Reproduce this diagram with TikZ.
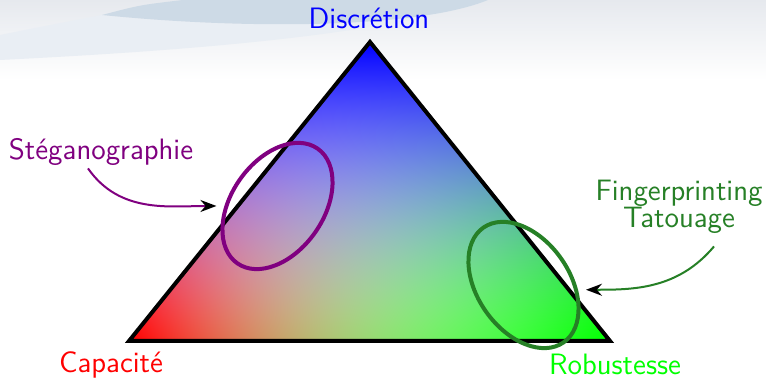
\documentclass[tikz,border=0pt]{standalone}
\usetikzlibrary{shapes.geometric,arrows.meta}

\definecolor{bgtop}{RGB}{230,233,238}
\definecolor{bandlight}{RGB}{233,238,244}
\definecolor{banddark}{RGB}{205,218,230}
\definecolor{stegcol}{RGB}{128,0,128}
\definecolor{fpcol}{RGB}{38,128,38}

% red, then green, then blue laid over white, each fading away from its corner
\pgfdeclarefunctionalshading{trishade}{\pgfpointorigin}{\pgfpoint{240.5bp}{149.5bp}}{}{
  149.5 div
  dup 120.5 mul
  3 -1 roll exch sub
  240.5 div
  2 copy add 1 exch sub
  3 1 roll exch
  abs 1.5 exp 1 exch sub
  exch abs 1.3 exp 1 exch sub exch
  3 -1 roll dup mul 1 exch sub 3 1 roll
  1 index 1 index mul
  3 index 3 index mul 1 add 3 index sub 2 index mul
  4 index 4 index mul 3 index mul 1 add 3 index sub
  6 -3 roll pop pop pop
}

\begin{document}
\begin{tikzpicture}[x=0.5bp,y=0.5bp,
    lbl/.style={font=\fontsize{14.8}{14}\selectfont\sffamily,inner sep=1bp,anchor=base},
    zone/.style={draw,ellipse,line width=2bp,minimum width=70bp,minimum height=46bp,inner sep=0pt},
    pointer/.style={line width=1bp,-{Stealth[length=8bp,width=6bp,black]},shorten >=4bp}]
  \useasboundingbox (0,0) rectangle (766,378);

  % background
  \fill[white] (0,0) rectangle (766,378);
  \shade[top color=bgtop,bottom color=white] (0,298) rectangle (766,378);
  \fill[bandlight] (0,343) .. controls (50,353) .. (102,363)
    .. controls (250,348) and (420,350) .. (488,378)
    .. controls (380,343) and (200,328) .. (0,318) -- cycle;
  \fill[banddark] (102,363) .. controls (140,373) .. (183,378) -- (488,378)
    .. controls (420,350) and (250,348) .. (102,363) -- cycle;

  % triangle
  \coordinate (cap) at (129,37);
  \coordinate (rob) at (610,37);
  \coordinate (dis) at (370,336);
  \begin{scope}
    \clip (cap) -- (rob) -- (dis) -- cycle;
    \node[inner sep=0pt,anchor=south west] (shade) at (cap) {\pgfuseshading{trishade}};
  \end{scope}
  \draw[line width=2bp] (cap) -- (rob) -- (dis) -- cycle;

  % corners
  \node[lbl,text=blue] (dislabel) at (369,349) {Discrétion};
  \node[lbl,text=red] (caplabel) at (111,5) {Capacité};
  \node[lbl,text=green] (roblabel) at (615,3) {Robustesse};

  % zones
  \node[zone,draw=stegcol,rotate=55] (stegzone) at (277.5,172) {};
  \node[zone,draw=fpcol,rotate=-55] (fpzone) at (523.5,93) {};

  \node[lbl,text=stegcol] (steglabel) at (101,218) {Stéganographie};
  \node[lbl,text=fpcol,align=center] (fplabel) at (679,150) {Fingerprinting\\Tatouage};

  \draw[pointer,stegcol] ([xshift=-6.5bp]steglabel.south) to[out=-55,in=180] (stegzone.125);
  \draw[pointer,fpcol] ([xshift=17.5bp,yshift=-5bp]fplabel.south) to[out=-130,in=0] (fpzone.50);
\end{tikzpicture}
\end{document}
